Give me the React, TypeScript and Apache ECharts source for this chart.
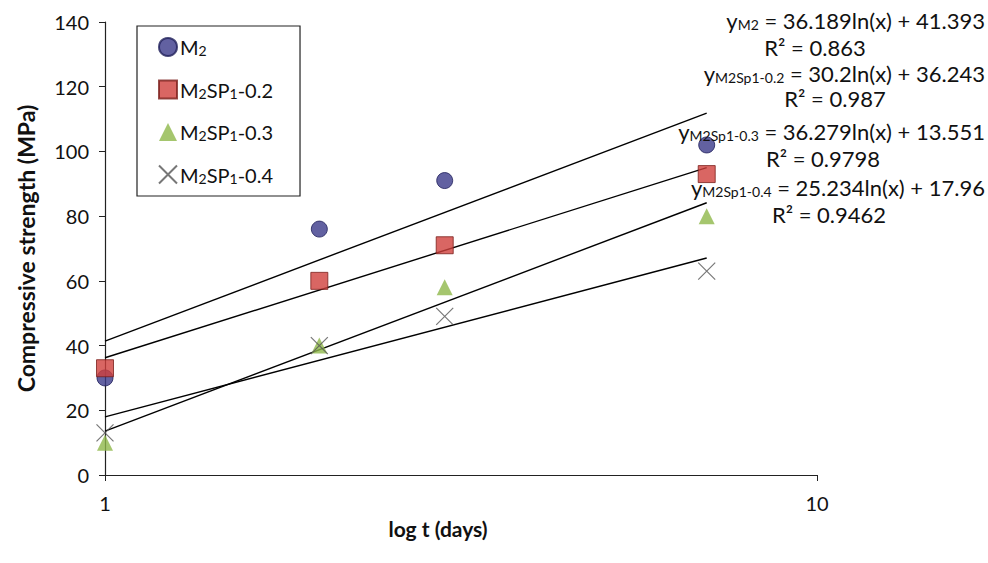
import React, { useEffect, useRef } from "react";
import * as echarts from "echarts";

// Curing ages (days) and measured compressive strength (MPa)
const days = [1, 2, 3, 7];
const m2 = [30, 76, 91, 102];
const sp02 = [33, 60, 71, 93];
const sp03 = [10, 40, 58, 80];
const sp04 = [13, 40, 49, 63];

const seriesNames = ["M₂", "M₂SP₁-0.2", "M₂SP₁-0.3", "M₂SP₁-0.4"];

// Logarithmic trend lines y = a·ln(x) + b
const trendA = [36.189, 30.2, 36.279, 25.234];
const trendB = [41.393, 36.243, 13.551, 17.96];
const trendR2 = ["0.863", "0.987", "0.9798", "0.9462"];
const trendTags = ["M2", "M2Sp1-0.2", "M2Sp1-0.3", "M2Sp1-0.4"];

const yTicks = [0, 20, 40, 60, 80, 100, 120, 140];

const FONT = "Lato, 'Open Sans', sans-serif";

// Turn unicode subscript digits into rich-text runs so they render at a readable size
function subscriptRich(name: string): string {
  const map: Record<string, string> = { "₁": "1", "₂": "2" };
  let out = "";
  let buf = "";
  for (const ch of name) {
    if (map[ch]) {
      if (buf) out += `{a|${buf}}`;
      buf = "";
      out += `{s|${map[ch]}}`;
    } else {
      buf += ch;
    }
  }
  if (buf) out += `{a|${buf}}`;
  return out;
}

export default function App() {
  const ref = useRef<HTMLDivElement>(null);

  useEffect(() => {
    if (!ref.current) return;
    const chart = echarts.init(ref.current, undefined, { renderer: "svg" });

    const values = [m2, sp02, sp03, sp04];
    const symbols = [
      "circle",
      "rect",
      "triangle",
      "path://M0,0L10,10M10,0L0,10",
    ];
    const itemStyles = [
      { color: "#3b3a8a", borderColor: "#1f1f5a", borderWidth: 1 },
      { color: "#d0403c", borderColor: "#7a1f1c", borderWidth: 1 },
      { color: "#8fb84a", borderColor: "#8fb84a", borderWidth: 0 },
      { color: "rgba(0,0,0,0)", borderColor: "#555", borderWidth: 1.2 },
    ];
    const sizes = [16, 17, 16, 17];

    const scatter = values.map((vals, i) => ({
      name: seriesNames[i],
      type: "scatter",
      symbol: symbols[i],
      symbolSize: sizes[i],
      itemStyle: itemStyles[i],
      data: days.map((d, j) => [d, vals[j]]),
      z: 3,
    }));

    const xFirst = days[0];
    const xLast = days[days.length - 1];
    const trends = trendA.map((a, i) => ({
      name: "trend" + i,
      type: "line",
      symbol: "none",
      silent: true,
      lineStyle: { color: "#000", width: 1.4 },
      data: [
        [xFirst, a * Math.log(xFirst) + trendB[i]],
        [xLast, a * Math.log(xLast) + trendB[i]],
      ],
      z: 2,
    }));

    // Trend equation labels in the upper right
    const eqRows = [
      { y: 20, r2y: 47, r2x: 815 },
      { y: 73, r2y: 98, r2x: 835 },
      { y: 131, r2y: 158, r2x: 823 },
      { y: 187, r2y: 214, r2x: 829 },
    ];
    const graphics: any[] = [];
    trendTags.forEach((tag, i) => {
      graphics.push({
        type: "text",
        x: 985,
        y: eqRows[i].y,
        style: {
          text: `{a|y}{s|${tag}}{a| = ${trendA[i]}ln(x) + ${trendB[i]}}`,
          align: "right",
          verticalAlign: "middle",
          rich: {
            a: { fontSize: 22, fontFamily: FONT, fill: "#111" },
            s: {
              fontSize: 14,
              fontFamily: FONT,
              fill: "#111",
              verticalAlign: "bottom",
              padding: [9, 0, 0, 0],
            },
          },
        },
        z: 10,
      });
      graphics.push({
        type: "text",
        x: eqRows[i].r2x,
        y: eqRows[i].r2y,
        style: {
          text: `R² = ${trendR2[i]}`,
          align: "center",
          verticalAlign: "middle",
          fontSize: 22,
          fontFamily: FONT,
          fill: "#111",
        },
        z: 10,
      });
    });

    chart.setOption({
      animation: false,
      backgroundColor: "#fff",
      grid: { left: 105, right: 171, top: 22, bottom: 88 },
      legend: {
        data: seriesNames,
        orient: "vertical",
        left: 137,
        top: 26,
        padding: [11, 27, 11, 21],
        itemGap: 22,
        itemWidth: 18,
        itemHeight: 18,
        borderColor: "#222",
        borderWidth: 1.2,
        borderRadius: 0,
        formatter: (name: string) => subscriptRich(name),
        textStyle: {
          fontSize: 20,
          fontFamily: FONT,
          color: "#111",
          padding: [0, 0, 0, -2],
          rich: {
            a: { fontSize: 20, fontFamily: FONT, color: "#111" },
            s: {
              fontSize: 14,
              fontFamily: FONT,
              color: "#111",
              verticalAlign: "bottom",
              padding: [7, 0, 0, 0],
            },
          },
        },
        selectedMode: false,
      },
      xAxis: {
        type: "log",
        logBase: 10,
        min: 1,
        max: 10,
        name: "log t (days)",
        nameLocation: "middle",
        nameGap: 36,
        nameTextStyle: { fontSize: 21, fontWeight: "bold", fontFamily: FONT, color: "#111", padding: [0, 46, 0, 0] },
        axisLine: { show: true, lineStyle: { color: "#222", width: 1.2 } },
        axisTick: { show: true, length: 6, lineStyle: { color: "#222" } },
        axisLabel: { fontSize: 20, fontFamily: FONT, color: "#111", margin: 18 },
        splitLine: { show: false },
        minorTick: { show: false },
      },
      yAxis: {
        type: "value",
        min: yTicks[0],
        max: yTicks[yTicks.length - 1],
        interval: 20,
        name: "Compressive strength (MPa)",
        nameLocation: "middle",
        nameGap: 68,
        nameTextStyle: { fontSize: 23, fontWeight: "bold", fontFamily: FONT, color: "#111" },
        axisLine: { show: true, lineStyle: { color: "#222", width: 1.2 } },
        axisTick: { show: true, length: 6, lineStyle: { color: "#222" } },
        axisLabel: { fontSize: 20, fontFamily: FONT, color: "#111", margin: 16 },
        splitLine: { show: false },
      },
      series: [...trends, ...scatter],
      graphic: graphics,
    });

    return () => chart.dispose();
  }, []);

  return (
    <div
      ref={ref}
      style={{ position: "fixed", left: 0, top: 0, width: 988, height: 563 }}
    />
  );
}
